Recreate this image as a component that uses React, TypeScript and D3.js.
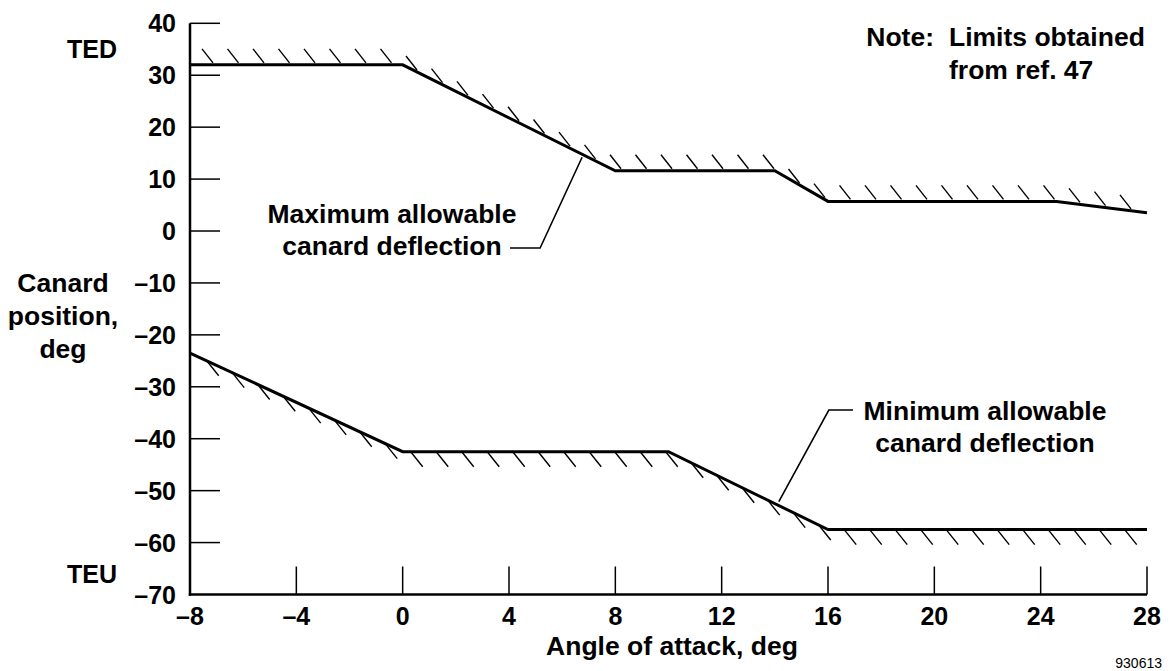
import React from "react";
import * as d3 from "d3";

// ---- data ----
const xTickValues = [-8, -4, 0, 4, 8, 12, 16, 20, 24, 28];
const yTickValues = [40, 30, 20, 10, 0, -10, -20, -30, -40, -50, -60, -70];

// Maximum allowable canard deflection (upper limit)
const maxAlpha = [-8, 0, 8, 14, 16, 24.6, 28];
const maxDefl = [32, 32, 11.6, 11.6, 5.7, 5.7, 3.5];

// Minimum allowable canard deflection (lower limit)
const minAlpha = [-8, 0, 10, 16, 28];
const minDefl = [-23.5, -42.5, -42.5, -57.5, -57.5];

// annotation anchor points (data units)
const maxLeaderAlpha = 6.75;
const minLeaderAlpha = 14.15;

const W = 1170;
const H = 671;
const FONT = "'Liberation Sans', Arial, Helvetica, sans-serif";

export default function App() {
  const x = d3.scaleLinear().domain([-8, 28]).range([190, 1147]);
  const y = d3.scaleLinear().domain([-70, 40]).range([594.5, 23.3]);

  const maxPts: [number, number][] = maxAlpha.map((a, i) => [a, maxDefl[i]]);
  const minPts: [number, number][] = minAlpha.map((a, i) => [a, minDefl[i]]);

  const line = d3
    .line<[number, number]>()
    .x((d) => x(d[0]))
    .y((d) => y(d[1]));

  const interp = (pts: [number, number][], a: number) => {
    for (let i = 0; i < pts.length - 1; i++) {
      const [a0, d0] = pts[i];
      const [a1, d1] = pts[i + 1];
      if (a >= a0 && a <= a1) return d0 + ((d1 - d0) * (a - a0)) / (a1 - a0);
    }
    return pts[pts.length - 1][1];
  };

  // hatch marks at regular pixel spacing along x
  const hatchSpacing = 25.5;
  const makeHatches = (pts: [number, number][], startOffset: number) => {
    const out: { px: number; py: number }[] = [];
    const x0 = x(pts[0][0]);
    const x1 = x(pts[pts.length - 1][0]);
    for (let px = x0 + startOffset; px < x1 - 8; px += hatchSpacing) {
      const a = x.invert(px);
      out.push({ px, py: y(interp(pts, a)) });
    }
    return out;
  };
  const maxHatches = makeHatches(maxPts, 23);
  const minHatches = makeHatches(minPts, 16.7);

  const fmt = (v: number) => (v < 0 ? "\u2013" + Math.abs(v) : String(v));

  const maxLx = x(maxLeaderAlpha);
  const maxLy = y(interp(maxPts, maxLeaderAlpha)) + 3;
  const minLx = x(minLeaderAlpha);
  const minLy = y(interp(minPts, minLeaderAlpha)) - 4;

  const tick = { fontFamily: FONT, fontWeight: 700, fontSize: 25, fill: "#000" } as const;
  const bold = { fontFamily: FONT, fontWeight: 700, fontSize: 26.5, fill: "#000" } as const;

  return (
    <svg
      width={W}
      height={H}
      viewBox={`0 0 ${W} ${H}`}
      style={{ position: "absolute", left: 0, top: 0, background: "#fff" }}
    >
      <rect x={0} y={0} width={W} height={H} fill="#fff" />

      {/* y ticks */}
      {yTickValues
        .filter((v) => v !== -70)
        .map((v) => (
          <line key={"yt" + v} x1={x(-8)} x2={x(-8) + 30} y1={y(v)} y2={y(v)} stroke="#000" strokeWidth={1.5} />
        ))}
      {/* x ticks */}
      {xTickValues
        .filter((v) => v !== -8)
        .map((v) => (
          <line key={"xt" + v} x1={x(v)} x2={x(v)} y1={y(-70)} y2={y(-70) - 28} stroke="#000" strokeWidth={1.5} />
        ))}

      {/* axes */}
      <line x1={x(-8)} x2={x(-8)} y1={y(40)} y2={y(-70) + 1.2} stroke="#000" strokeWidth={2.5} />
      <line x1={x(-8) - 1.2} x2={x(28)} y1={y(-70)} y2={y(-70)} stroke="#000" strokeWidth={2.5} />

      {/* y tick labels */}
      {yTickValues.map((v) => (
        <text key={"yl" + v} x={176} y={y(v) + 9} textAnchor="end" style={tick}>
          {fmt(v)}
        </text>
      ))}
      {/* x tick labels */}
      {xTickValues.map((v) => (
        <text key={"xl" + v} x={x(v)} y={625} textAnchor="middle" style={tick}>
          {fmt(v)}
        </text>
      ))}

      {/* axis titles */}
      <text x={672} y={655} textAnchor="middle" style={bold}>
        Angle of attack, deg
      </text>
      <text x={63} textAnchor="middle" style={bold}>
        <tspan x={63} y={292}>Canard</tspan>
        <tspan x={63} y={325}>position,</tspan>
        <tspan x={63} y={358}>deg</tspan>
      </text>
      <text x={117} y={58} textAnchor="end" style={tick}>TED</text>
      <text x={117} y={583} textAnchor="end" style={tick}>TEU</text>

      {/* hatches */}
      {maxHatches.map((h, i) => (
        <line key={"mh" + i} x1={h.px} y1={h.py - 2} x2={h.px - 11} y2={h.py - 16} stroke="#000" strokeWidth={1.4} />
      ))}
      {minHatches.map((h, i) => (
        <line key={"nh" + i} x1={h.px} y1={h.py} x2={h.px + 12} y2={h.py + 15} stroke="#000" strokeWidth={1.4} />
      ))}

      {/* limit lines */}
      <path d={line(maxPts) || ""} fill="none" stroke="#000" strokeWidth={3} strokeLinejoin="miter" />
      <path d={line(minPts) || ""} fill="none" stroke="#000" strokeWidth={3} strokeLinejoin="miter" />

      {/* max annotation */}
      <text textAnchor="middle" style={bold}>
        <tspan x={392} y={222.5}>Maximum allowable</tspan>
        <tspan x={392} y={255}>canard deflection</tspan>
      </text>
      <polyline
        points={`${510},${248} ${maxLx - 42},${248} ${maxLx},${maxLy}`}
        fill="none"
        stroke="#000"
        strokeWidth={1.6}
      />

      {/* min annotation */}
      <text textAnchor="middle" style={bold}>
        <tspan x={985} y={420}>Minimum allowable</tspan>
        <tspan x={985} y={452}>canard deflection</tspan>
      </text>
      <polyline
        points={`${853},${410} ${minLx + 50},${410} ${minLx},${minLy}`}
        fill="none"
        stroke="#000"
        strokeWidth={1.6}
      />

      {/* note */}
      <text x={934} y={46} textAnchor="end" style={bold}>Note:</text>
      <text style={bold}>
        <tspan x={949} y={46}>Limits obtained</tspan>
        <tspan x={949} y={79}>from ref. 47</tspan>
      </text>

      <text x={1162} y={668} textAnchor="end" style={{ fontFamily: FONT, fontSize: 14, fill: "#000" }}>
        930613
      </text>
    </svg>
  );
}
